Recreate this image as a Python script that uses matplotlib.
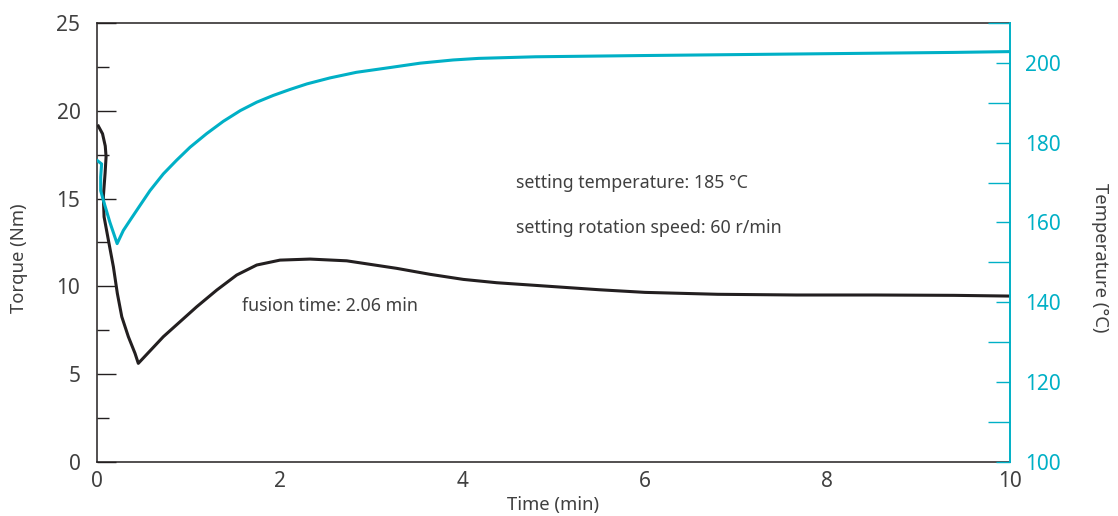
import matplotlib
matplotlib.use("Agg")
import matplotlib.pyplot as plt
from matplotlib.ticker import MultipleLocator

plt.rcParams['font.family'] = ['Noto Sans', 'DejaVu Sans']

# torque curve (Nm) vs time (min)
time_torque = [0.014, 0.060, 0.090, 0.099, 0.088, 0.069, 0.077, 0.124, 0.179, 0.222,
               0.271, 0.343, 0.416, 0.452, 0.726, 1.092, 1.311, 1.530, 1.749, 2.004,
               2.333, 2.735, 3.283, 3.647, 4.012, 4.378, 4.743, 5.5, 6.0, 6.8,
               7.66, 8.52, 9.39, 9.98]
torque = [19.14, 18.70, 18.00, 17.39, 16.44, 15.11, 13.96, 12.64, 11.11, 9.60,
          8.26, 7.12, 6.17, 5.60, 7.12, 8.83, 9.78, 10.64, 11.21, 11.49,
          11.55, 11.45, 11.02, 10.68, 10.39, 10.20, 10.07, 9.80, 9.65, 9.54,
          9.50, 9.50, 9.48, 9.44]

# temperature curve (°C) vs time (min)
time_temp = [0.0, 0.05, 0.04, 0.04, 0.07, 0.14, 0.22, 0.288, 0.36, 0.471,
             0.58, 0.726, 0.87, 1.019, 1.20, 1.383, 1.57, 1.749, 1.93, 2.114,
             2.30, 2.552, 2.84, 3.209, 3.54, 3.90, 4.18, 4.80, 5.93, 7.66,
             9.39, 10.0]
temperature = [175.6, 174.7, 171.4, 168.0, 165.5, 160.1, 154.7, 158.0, 160.5, 164.3,
               168.0, 172.2, 175.6, 178.9, 182.3, 185.4, 188.1, 190.2, 191.9, 193.4,
               194.8, 196.3, 197.7, 198.9, 200.0, 200.8, 201.2, 201.6, 201.9, 202.3,
               202.7, 202.9]

notes = ["setting temperature: 185 °C", "setting rotation speed: 60 r/min", "fusion time: 2.06 min"]

cyan = '#00b0c6'
dark = '#231f20'
grey = '#404040'

fig = plt.figure(figsize=(11.18, 5.16), dpi=100)
ax = fig.add_axes([0.0868, 0.1056, 0.8166, 0.8492])
ax2 = ax.twinx()

ax.plot(time_torque, torque, color=dark, lw=2.2)
ax2.plot(time_temp, temperature, color=cyan, lw=2.2)

ax.set_xlim(0, 10)
ax.set_ylim(0, 25)
ax2.set_ylim(100, 210)

ax.xaxis.set_major_locator(MultipleLocator(2))
ax.yaxis.set_major_locator(MultipleLocator(5))
ax.yaxis.set_minor_locator(MultipleLocator(2.5))
ax2.yaxis.set_major_locator(MultipleLocator(20))
ax2.yaxis.set_minor_locator(MultipleLocator(10))

ax.tick_params(axis='x', length=0, pad=7, labelsize=15, labelcolor=grey)
ax.tick_params(axis='y', which='major', direction='in', length=14, width=1.0,
               color=dark, pad=12, labelsize=15, labelcolor=grey)
ax.tick_params(axis='y', which='minor', direction='in', length=8.4, width=1.0, color=dark)
ax2.tick_params(axis='y', which='major', direction='in', length=10, width=1.0,
                color=cyan, pad=11, labelsize=15, labelcolor=cyan)
ax2.tick_params(axis='y', which='minor', direction='in', length=16, width=1.0, color=cyan)

for s in ['top', 'bottom', 'left']:
    ax.spines[s].set_color(dark)
    ax.spines[s].set_linewidth(1.1)
ax.spines['right'].set_visible(False)
for s in ['top', 'bottom', 'left']:
    ax2.spines[s].set_visible(False)
ax2.spines['right'].set_color(cyan)
ax2.spines['right'].set_linewidth(1.4)

fig.text(0.017, 0.50, "Torque (Nm)", rotation=90, ha='center', va='center', fontsize=13.3, color=grey)
fig.text(0.984, 0.50, "Temperature (°C)", rotation=-90, ha='center', va='center', fontsize=13.3, color=grey)
fig.text(0.4946, 0.021, "Time (min)", ha='center', va='center', fontsize=13.3, color=grey)

ax.text(4.59, 15.89, notes[0], ha='left', va='center', fontsize=12.8, color=grey)
ax.text(4.59, 13.32, notes[1], ha='left', va='center', fontsize=12.8, color=grey)
ax.text(1.585, 8.87, notes[2], ha='left', va='center', fontsize=12.8, color=grey)

fig.savefig("out.png", dpi=100)
